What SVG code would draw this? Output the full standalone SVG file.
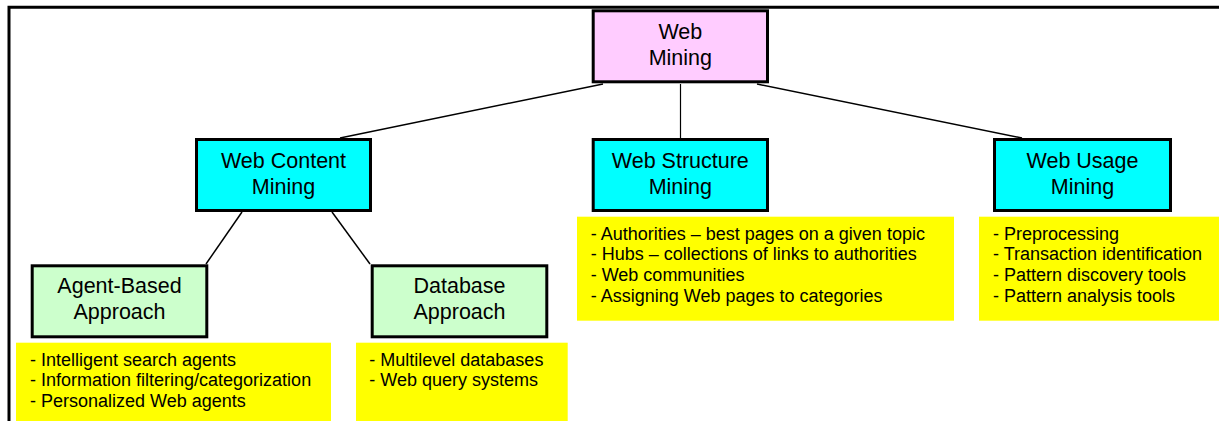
<svg xmlns="http://www.w3.org/2000/svg" width="1219" height="421" viewBox="0 0 1219 421">
<style>
.box{stroke:#000;stroke-width:3}
.root{fill:#FFCCFF}
.cat{fill:#00FFFF}
.sub{fill:#CCFFCC}
.note{fill:#FFFF00}
.lbl{font-family:"Liberation Sans",Arial,sans-serif;font-size:21.5px;fill:#000;text-anchor:middle}
.lst{font-family:"Liberation Sans",Arial,sans-serif;font-size:18px;fill:#000}
.con{stroke:#000;stroke-width:1.5;fill:none}
</style>
<rect width="1219" height="421" fill="#fff"/>
<path d="M9 421 V7.3 H1219" fill="none" stroke="#000" stroke-width="3"/>
<g id="connectors">
<line class="con" x1="603" y1="84" x2="340" y2="138"/>
<line class="con" x1="680.5" y1="84" x2="680.5" y2="138" style="stroke-width:1.2"/>
<line class="con" x1="757" y1="84" x2="1022" y2="138"/>
<line class="con" x1="242" y1="212" x2="206" y2="264"/>
<line class="con" x1="332" y1="212" x2="370" y2="264"/>
</g>
<g id="web-mining">
<rect class="box root" x="593.2" y="10.8" width="174.3" height="71"/>
<text class="lbl" x="680.3" y="39.3">Web</text>
<text class="lbl" x="680.3" y="65">Mining</text>
</g>
<g id="web-content-mining">
<rect class="box cat" x="196.5" y="139.5" width="174" height="71"/>
<text class="lbl" x="283.5" y="168">Web Content</text>
<text class="lbl" x="283.5" y="194">Mining</text>
</g>
<g id="web-structure-mining">
<rect class="box cat" x="593.2" y="139.5" width="174.3" height="71"/>
<text class="lbl" x="680.3" y="168">Web Structure</text>
<text class="lbl" x="680.3" y="194">Mining</text>
</g>
<g id="web-usage-mining">
<rect class="box cat" x="994.5" y="139.5" width="176" height="71"/>
<text class="lbl" x="1082.5" y="168">Web Usage</text>
<text class="lbl" x="1082.5" y="194">Mining</text>
</g>
<g id="agent-based-approach">
<rect class="box sub" x="32.2" y="265.8" width="174.6" height="71"/>
<text class="lbl" x="119.5" y="293.3">Agent-Based</text>
<text class="lbl" x="119.5" y="319">Approach</text>
</g>
<g id="database-approach">
<rect class="box sub" x="372.2" y="265.8" width="174.6" height="71"/>
<text class="lbl" x="459.5" y="293.3">Database</text>
<text class="lbl" x="459.5" y="319">Approach</text>
</g>
<g id="agent-notes">
<rect class="note" x="16" y="342.7" width="315" height="78.3"/>
<text class="lst" x="30" y="365.7">- Intelligent search agents</text>
<text class="lst" x="30" y="386.2">- Information filtering/categorization</text>
<text class="lst" x="30" y="406.7">- Personalized Web agents</text>
</g>
<g id="database-notes">
<rect class="note" x="356" y="342.7" width="211.7" height="78.3"/>
<text class="lst" x="369.3" y="365.7">- Multilevel databases</text>
<text class="lst" x="369.3" y="386.2">- Web query systems</text>
</g>
<g id="structure-notes">
<rect class="note" x="577" y="216.7" width="377" height="104"/>
<text class="lst" x="590.7" y="239.5">- Authorities – best pages on a given topic</text>
<text class="lst" x="590.7" y="260.3">- Hubs – collections of links to authorities</text>
<text class="lst" x="590.7" y="281">- Web communities</text>
<text class="lst" x="590.7" y="301.8">- Assigning Web pages to categories</text>
</g>
<g id="usage-notes">
<rect class="note" x="979" y="216.7" width="240" height="104"/>
<text class="lst" x="993" y="239.5">- Preprocessing</text>
<text class="lst" x="993" y="260.3">- Transaction identification</text>
<text class="lst" x="993" y="281">- Pattern discovery tools</text>
<text class="lst" x="993" y="301.8">- Pattern analysis tools</text>
</g>
</svg>
